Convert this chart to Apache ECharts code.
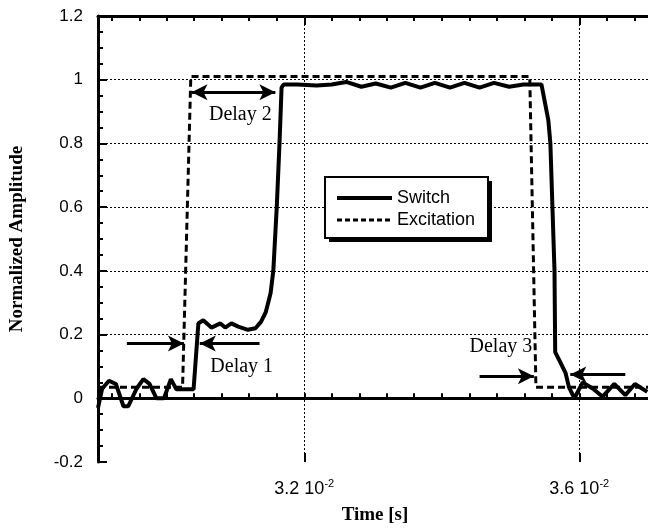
<!DOCTYPE html>
<html>
<head>
<meta charset="utf-8">
<script src="https://cdn.jsdelivr.net/npm/echarts@6/dist/echarts.min.js"></script>
<style>
  html, body { margin: 0; padding: 0; background: #fff; }
  #chart { width: 648px; height: 528px; }
</style>
</head>
<body>
<div id="chart"></div>
<script>
// Switch response (time in s, normalized amplitude)
const switchTime = [
  0.02900, 0.02906, 0.02916, 0.02926, 0.02937, 0.02944, 0.02956, 0.02966, 0.02975, 0.02985,
  0.02996, 0.03006, 0.03014, 0.03039, 0.03046, 0.03053, 0.03065, 0.03078, 0.03085, 0.03094,
  0.03104, 0.03118, 0.03129, 0.03137, 0.03144, 0.03151, 0.03155, 0.03160, 0.03164, 0.03167,
  0.03170, 0.03190, 0.03218, 0.03240, 0.03261, 0.03283, 0.03304, 0.03326, 0.03347, 0.03369,
  0.03390, 0.03412, 0.03433, 0.03455, 0.03476, 0.03498, 0.03519, 0.03545, 0.03555, 0.03558,
  0.03561, 0.03564, 0.03565, 0.03572, 0.03580, 0.03585, 0.03593, 0.03605, 0.03620, 0.03634,
  0.03651, 0.03667, 0.03681, 0.03699
];
const switchAmp = [
  -0.03, 0.03, 0.055, 0.045, -0.025, -0.025, 0.03, 0.06, 0.045, 0.0,
  0.0, 0.06, 0.028, 0.028, 0.235, 0.245, 0.222, 0.235, 0.222, 0.235,
  0.225, 0.215, 0.22, 0.24, 0.27, 0.33, 0.40, 0.60, 0.80, 0.975,
  0.985, 0.985, 0.982, 0.985, 0.993, 0.978, 0.988, 0.975, 0.99, 0.975,
  0.99, 0.975, 0.99, 0.975, 0.99, 0.978, 0.985, 0.985, 0.873, 0.80,
  0.60, 0.40, 0.145, 0.115, 0.08, 0.035, 0.0, 0.05, 0.03, 0.005,
  0.045, 0.01, 0.045, 0.02
];

// Excitation pulse
const excitationTime = [0.02900, 0.03023, 0.03035, 0.03528, 0.03537, 0.03700];
const excitationAmp  = [0.035, 0.035, 1.01, 1.01, 0.035, 0.035];

// Axis ticks
const xMin = 0.029, xMax = 0.037;
const xMajorTicks = [0.032, 0.036];
const xMajorMantissa = ['3.2', '3.6'];
const xExponent = '-2';
const xMinorTicks = [
  0.0292, 0.0296, 0.0300, 0.0304, 0.0308, 0.0312, 0.0316, 0.0320, 0.0324, 0.0328,
  0.0332, 0.0336, 0.0340, 0.0344, 0.0348, 0.0352, 0.0356, 0.0360, 0.0364, 0.0368
];
const yMin = -0.2, yMax = 1.2, yStep = 0.2;
const yGridValues = [0, 0.2, 0.4, 0.6, 0.8, 1];

// Delay annotations: arrows [t0, v0, t1, v1, headAtStart, headAtEnd]
const delayArrows = [
  [0.02942, 0.172, 0.03025, 0.172, false, true],
  [0.03135, 0.172, 0.03048, 0.172, false, true],
  [0.03036, 0.961, 0.03158, 0.961, true, true],
  [0.03455, 0.069, 0.03534, 0.069, false, true],
  [0.03667, 0.075, 0.03587, 0.075, false, true]
];
const delayLabels = ['Delay 1', 'Delay 2', 'Delay 3'];
const delayLabelTime = [0.03109, 0.03107, 0.03486];
const delayLabelAmp  = [0.10, 0.889, 0.163];

const zip = (a, b) => a.map((v, i) => [v, b[i]]);

const black = '#000';
const sans = 'Liberation Sans';
const serif = 'Liberation Serif';
const gridDot = { color: black, width: 1, type: [2, 2] };
const switchLine = { color: black, width: 4 };
const excitationLine = { color: black, width: 3, type: [7, 4] };

function xAxisBase(position) {
  return {
    type: 'value', position: position, min: xMin, max: xMax,
    splitLine: { show: false },
    axisLabel: { show: false }
  };
}

const chart = echarts.init(document.getElementById('chart'), null, { renderer: 'canvas' });

chart.setOption({
  animation: false,
  backgroundColor: '#fff',
  grid: { left: 98, right: -7, top: 16, bottom: 66, containLabel: false },
  xAxis: [
    Object.assign(xAxisBase('bottom'), {
      axisLine: { show: true, lineStyle: { color: black, width: 3 } },
      axisTick: { show: true, inside: true, length: 5, customValues: xMinorTicks,
                  lineStyle: { color: black, width: 2 } },
      axisLabel: {
        show: true, customValues: xMajorTicks, margin: 16,
        formatter: function (v) {
          let i = xMajorTicks.findIndex(t => Math.abs(t - v) < 1e-9);
          if (i < 0) return '';
          return '{m|' + xMajorMantissa[i] + ' 10}{e|' + xExponent + '}';
        },
        rich: {
          m: { fontFamily: sans, fontSize: 18, color: black, lineHeight: 22 },
          e: { fontFamily: sans, fontSize: 11, color: black, verticalAlign: 'top', lineHeight: 22 }
        }
      }
    }),
    Object.assign(xAxisBase('bottom'), {
      axisLine: { show: false },
      axisTick: { show: true, inside: true, length: 9, customValues: xMajorTicks,
                  lineStyle: { color: black, width: 2 } }
    }),
    Object.assign(xAxisBase('top'), {
      axisLine: { show: true, lineStyle: { color: black, width: 3 } },
      axisTick: { show: true, inside: true, length: 5, customValues: xMinorTicks,
                  lineStyle: { color: black, width: 2 } }
    }),
    Object.assign(xAxisBase('top'), {
      axisLine: { show: false },
      axisTick: { show: true, inside: true, length: 9, customValues: xMajorTicks,
                  lineStyle: { color: black, width: 2 } }
    })
  ],
  yAxis: {
    type: 'value', min: yMin, max: yMax, interval: yStep,
    axisLine: { show: true, lineStyle: { color: black, width: 3 } },
    axisTick: { show: true, inside: true, length: 9, lineStyle: { color: black, width: 2 } },
    minorTick: { show: true, splitNumber: 4, length: 5, lineStyle: { color: black, width: 2 } },
    splitLine: { show: false },
    axisLabel: { fontFamily: sans, fontSize: 17, color: black, margin: 15 }
  },
  legend: {
    data: [
      { name: 'Switch', lineStyle: { width: 4, type: 'solid', color: black } },
      { name: 'Excitation', lineStyle: { width: 3, type: [5, 3], color: black } }
    ],
    orient: 'vertical', left: 325, top: 177, z: 10,
    itemWidth: 55, itemHeight: 14, itemGap: 4,
    padding: [12, 12, 9, 10],
    itemStyle: { opacity: 0 },
    textStyle: { fontFamily: sans, fontSize: 18, color: black },
    selectedMode: false
  },
  series: [
    {
      name: 'Excitation', type: 'line', xAxisIndex: 0, z: 2,
      data: zip(excitationTime, excitationAmp),
      showSymbol: false, symbol: 'none',
      lineStyle: excitationLine,
      itemStyle: { color: black },
      markLine: {
        silent: true, symbol: 'none', label: { show: false }, precision: 6,
        lineStyle: gridDot,
        data: xMajorTicks.map(t => ({ xAxis: t }))
          .concat(yGridValues.map(v => ({ yAxis: v })))
      }
    },
    {
      name: 'Switch', type: 'line', xAxisIndex: 0, z: 3,
      data: zip(switchTime, switchAmp),
      showSymbol: false, symbol: 'none',
      lineStyle: switchLine,
      itemStyle: { color: black },
      markLine: {
        silent: true, label: { show: false }, precision: 6,
        symbolSize: [12, 16],
        lineStyle: { color: black, width: 3, type: 'solid' },
        data: delayArrows.map(a => [
          { coord: [a[0], a[1]], symbol: a[4] ? 'arrow' : 'none' },
          { coord: [a[2], a[3]], symbol: a[5] ? 'arrow' : 'none' }
        ])
      },
      markPoint: {
        silent: true, symbol: 'circle', symbolSize: 0,
        label: { show: true, position: 'inside', formatter: p => p.name,
                 fontFamily: serif, fontSize: 20, color: black },
        data: delayLabels.map((s, i) => ({ name: s, coord: [delayLabelTime[i], delayLabelAmp[i]] }))
      }
    }
  ],
  graphic: [
    // legend frame with a solid drop shadow
    { type: 'rect', z: 8, shape: { x: 329, y: 181, width: 163, height: 61 },
      style: { fill: black } },
    { type: 'rect', z: 9, shape: { x: 325, y: 177, width: 163, height: 61 },
      style: { fill: '#fff', stroke: black, lineWidth: 2 } },
    {
      type: 'text', x: 17, y: 239, rotation: Math.PI / 2,
      style: { text: 'Normalized Amplitude', fontFamily: serif, fontWeight: 'bold',
               fontSize: 19, fill: black, textAlign: 'center', textVerticalAlign: 'middle' }
    },
    {
      type: 'text', x: 375, y: 515,
      style: { text: 'Time [s]', fontFamily: serif, fontWeight: 'bold',
               fontSize: 19, fill: black, textAlign: 'center', textVerticalAlign: 'middle' }
    }
  ]
});
</script>
</body>
</html>
